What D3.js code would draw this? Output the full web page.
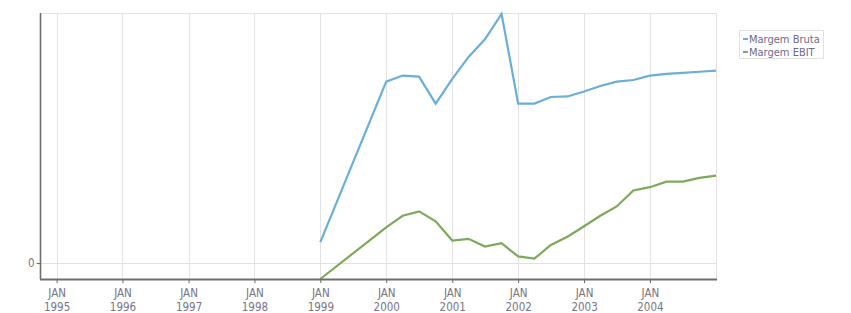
<!DOCTYPE html>
<html>
<head>
<meta charset="utf-8">
<script src="https://cdn.jsdelivr.net/npm/d3@7"></script>
<style>
    body { margin: 0; background: #fff; }
    text { font-family: "DejaVu Sans Condensed", "DejaVu Sans", sans-serif; font-stretch: condensed; }
</style>
</head>
<body>
<svg id="chart" width="851" height="313"></svg>
<script>
// quarterly dates (first series point is annual)
const dates = ["1999-01-01", "2000-01-01", "2000-04-01", "2000-07-01", "2000-10-01",
    "2001-01-01", "2001-04-01", "2001-07-01", "2001-10-01",
    "2002-01-01", "2002-04-01", "2002-07-01", "2002-10-01",
    "2003-01-01", "2003-04-01", "2003-07-01", "2003-10-01",
    "2004-01-01", "2004-04-01", "2004-07-01", "2004-10-01", "2005-01-01"];
const margemBruta = [3.8, 33.0, 34.1, 33.9, 29.0,
    33.5, 37.5, 40.7, 45.3,
    29.0, 29.0, 30.2, 30.3,
    31.2, 32.2, 33.0, 33.3,
    34.1, 34.4, 34.6, 34.8, 35.0];
const margemEbit = [-2.9, 6.5, 8.6, 9.4, 7.6,
    4.1, 4.4, 3.0, 3.6,
    1.2, 0.8, 3.3, 4.8,
    6.7, 8.6, 10.3, 13.2,
    13.8, 14.8, 14.8, 15.5, 15.9];
const seriesNames = ["Margem Bruta", "Margem EBIT"];
const seriesColors = ["#6baed6", "#7ea85a"];
const yTicks = [0];
const xStart = "1994-10-01";

const parse = d3.timeParse("%Y-%m-%d");
const svg = d3.select("#chart");

const plotLeft = 40, plotRight = 716, plotTop = 13, plotBottom = 279;

let x = d3.scaleTime()
    .domain([parse(xStart), parse(dates[dates.length - 1])])
    .range([plotLeft, plotRight]);

let allVals = margemBruta.concat(margemEbit);
let y = d3.scaleLinear()
    .domain([d3.min(allVals), d3.max(allVals)])
    .range([plotBottom, plotTop + 1]);

// grid
let xTickDates = d3.timeYear.range(parse("1995-01-01"), parse("2005-01-01"));
svg.append("g").selectAll("line")
    .data(xTickDates)
    .enter().append("line")
    .attr("x1", d => Math.round(x(d)) + 0.5)
    .attr("x2", d => Math.round(x(d)) + 0.5)
    .attr("y1", plotTop)
    .attr("y2", plotBottom)
    .attr("stroke", "#e2e2e2");

svg.append("line")
    .attr("x1", plotRight + 0.5).attr("x2", plotRight + 0.5)
    .attr("y1", plotTop).attr("y2", plotBottom)
    .attr("stroke", "#e2e2e2");
svg.append("line")
    .attr("x1", plotLeft).attr("x2", plotRight)
    .attr("y1", plotTop + 0.5).attr("y2", plotTop + 0.5)
    .attr("stroke", "#e2e2e2");

svg.append("g").selectAll("line")
    .data(yTicks)
    .enter().append("line")
    .attr("x1", plotLeft).attr("x2", plotRight)
    .attr("y1", d => Math.round(y(d)) + 0.5)
    .attr("y2", d => Math.round(y(d)) + 0.5)
    .attr("stroke", "#e2e2e2");

// lines
let series = [margemBruta, margemEbit];
series.forEach(function (vals, i) {
    let line = d3.line()
        .defined(d => d != null)
        .x((d, j) => x(parse(dates[j])))
        .y(d => y(d));
    svg.append("path")
        .datum(vals)
        .attr("fill", "none")
        .attr("stroke", seriesColors[i])
        .attr("stroke-width", 2.2)
        .attr("d", line);
});

// axes
let xAxis = d3.axisBottom(x)
    .tickValues(xTickDates)
    .tickSize(4)
    .tickFormat("");
let gx = svg.append("g")
    .attr("transform", "translate(0," + plotBottom + ")")
    .call(xAxis);
gx.select(".domain").remove();
gx.selectAll(".tick line").attr("stroke", "#666");
gx.selectAll(".tick").each(function (d) {
    let t = d3.select(this);
    t.append("text").attr("y", 18).attr("text-anchor", "middle")
        .attr("fill", "#7a7486").attr("font-size", 11.5).text("JAN");
    t.append("text").attr("y", 32).attr("text-anchor", "middle")
        .attr("fill", "#7a7486").attr("font-size", 11.5).text(d3.timeFormat("%Y")(d));
});
svg.append("line")
    .attr("x1", plotLeft).attr("x2", plotRight + 1)
    .attr("y1", plotBottom + 0.5).attr("y2", plotBottom + 0.5)
    .attr("stroke", "#6e6e6e").attr("stroke-width", 2.2);

let yAxis = d3.axisLeft(y).tickValues(yTicks).tickSize(4).tickFormat(d3.format("d"));
let gy = svg.append("g")
    .attr("transform", "translate(" + (plotLeft + 0.5) + ",0)")
    .call(yAxis);
gy.select(".domain").remove();
gy.selectAll(".tick line").attr("stroke", "#666");
gy.selectAll(".tick text").attr("fill", "#7a7486").attr("font-size", 11.5)
    .attr("font-family", null).attr("x", -6);
svg.append("line")
    .attr("x1", plotLeft + 0.5).attr("x2", plotLeft + 0.5)
    .attr("y1", plotTop).attr("y2", plotBottom)
    .attr("stroke", "#6e6e6e").attr("stroke-width", 1.6);

// legend
let legend = svg.append("g").attr("transform", "translate(739,30)");
legend.append("rect")
    .attr("x", 0.5).attr("y", 0.5)
    .attr("width", 84).attr("height", 28)
    .attr("fill", "#fff").attr("stroke", "#e2e2e2");
seriesNames.forEach(function (name, i) {
    let row = legend.append("g").attr("transform", "translate(0," + (9 + i * 13) + ")");
    row.append("line")
        .attr("x1", 4).attr("x2", 9).attr("y1", 0).attr("y2", 0)
        .attr("stroke", seriesColors[i]).attr("stroke-width", 2);
    row.append("text")
        .attr("x", 10).attr("y", 4)
        .attr("fill", "#6e6a86").attr("font-size", 11)
        .text(name);
});
</script>
</body>
</html>
